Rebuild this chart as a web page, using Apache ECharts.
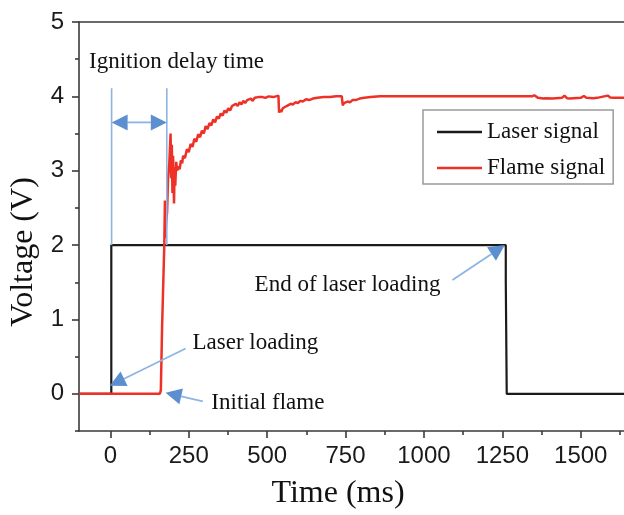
<!DOCTYPE html>
<html><head><meta charset="utf-8">
<script src="https://cdn.jsdelivr.net/npm/echarts@6/dist/echarts.min.js"></script>
<style>html,body{margin:0;padding:0;background:#fff}#c{width:624px;height:515px}</style>
</head><body><div id="c"></div>
<script>
// ---------- data ----------
const seriesNames = ['Laser signal', 'Flame signal'];
const xMajorTicks = [0, 250, 500, 750, 1000, 1250, 1500];
const xMinorTicks = [125, 375, 625, 875, 1125, 1375, 1625];
const yMajorTicks = [0, 1, 2, 3, 4, 5];
const yMinorTicks = [-0.5, 0.5, 1.5, 2.5, 3.5, 4.5];
const xRange = [-100, 1638];
const yRange = [-0.5, 5];

const laserSignal = [
  [-100, 0], [3, 0], [3, 2], [1261, 2], [1261, 1.52], [1264, 1.5], [1264, 0], [1638, 0]
];

const flameSignal = [
  [-100, 0], [158, 0], [161, 0.05], [165, 0.9], [172, 2.0], [174, 2.6], [175, 2.1], [178, 2.3],
  [181, 2.45], [184, 2.9], [188, 3.1], [192, 3.5], [194, 2.9], [196, 3.35], [198, 2.7], [200, 3.2],
  [203, 2.56], [205, 3.05], [207, 2.8], [210, 3.12], [213, 3.0], [217, 3.06], [221, 3.02],
  [225, 3.14], [229, 3.10], [232, 3.20], [238, 3.17], [244, 3.29], [250, 3.25], [256, 3.36],
  [262, 3.32], [268, 3.43], [274, 3.39], [280, 3.49], [286, 3.45], [292, 3.54], [298, 3.50],
  [304, 3.60], [310, 3.56], [316, 3.64], [322, 3.61], [328, 3.69], [334, 3.65], [340, 3.73],
  [346, 3.70], [352, 3.77], [358, 3.74], [364, 3.81], [370, 3.78], [376, 3.84], [382, 3.81],
  [388, 3.87], [394, 3.85], [400, 3.90], [406, 3.87], [412, 3.92], [418, 3.89], [424, 3.94],
  [430, 3.91], [436, 3.95], [442, 3.93], [448, 3.97], [454, 3.94], [460, 3.98], [466, 3.96],
  [472, 3.99], [478, 3.97], [486, 3.99], [494, 3.98], [505, 4.00], [520, 3.99], [536, 4.01],
  [538, 3.78], [541, 3.82], [545, 3.79], [550, 3.84], [556, 3.83], [562, 3.87], [568, 3.86],
  [575, 3.90], [582, 3.89], [590, 3.92], [598, 3.91], [606, 3.94], [614, 3.93], [624, 3.96],
  [634, 3.95], [646, 3.97], [660, 3.98], [680, 3.99], [700, 3.99], [720, 4.00], [738, 4.00],
  [741, 3.88], [745, 3.91], [750, 3.89], [756, 3.93], [764, 3.92], [772, 3.95], [782, 3.95],
  [795, 3.97], [810, 3.98], [830, 3.99], [860, 4.00], [1000, 4.00], [1200, 4.00], [1345, 4.00],
  [1352, 4.015], [1358, 4.02], [1364, 3.98], [1380, 3.97], [1390, 3.975], [1410, 3.97],
  [1440, 3.98], [1448, 4.01], [1456, 3.975], [1466, 3.97], [1476, 3.975], [1500, 3.98],
  [1510, 4.005], [1518, 3.98], [1540, 3.975], [1552, 3.98], [1586, 4.01], [1594, 3.985],
  [1605, 3.98], [1638, 3.98]
];

// ---------- annotations (data coordinates) ----------
const annoTexts = [
  { text: 'Ignition delay time', at: [-68, 4.46] },
  { text: 'Laser loading', at: [262, 0.68] },
  { text: 'Initial flame', at: [322, -0.125] },
  { text: 'End of laser loading', at: [460, 1.46] }
];
const guideLines = [
  [[4, 4.11], [4, 2.0]],
  [[180, 4.11], [180, 2.0]]
];
const arrowList = [
  { from: [4, 3.65], to: [180, 3.65], both: true },
  { from: [240, 0.61], to: [-2, 0.108] },
  { from: [295, -0.10], to: [176, 0.013] },
  { from: [1091, 1.53], to: [1258, 2.0] }
];

// ---------- chart ----------
const chart = echarts.init(document.getElementById('c'), null, { renderer: 'canvas' });
const axisCol = '#3a3a3a';
const sans = 'Liberation Sans, Arial, sans-serif';
const serif = 'Liberation Serif, Times New Roman, serif';
const plain = v => String(v);

function xAxisBase(extra) {
  return Object.assign({
    type: 'value', min: xRange[0], max: xRange[1], position: 'bottom',
    splitLine: { show: false },
    axisLine: { show: true, onZero: false, lineStyle: { color: axisCol, width: 1.6 } },
    axisLabel: { show: false }, axisTick: { show: false }
  }, extra);
}
function yAxisBase(extra) {
  return Object.assign({
    type: 'value', min: yRange[0], max: yRange[1], position: 'left',
    splitLine: { show: false },
    axisLine: { show: true, onZero: false, lineStyle: { color: axisCol, width: 1.6 } },
    axisLabel: { show: false }, axisTick: { show: false }
  }, extra);
}

const option = {
  animation: false,
  backgroundColor: '#fff',
  grid: { left: 79, right: 0, top: 22, bottom: 84, containLabel: false },
  xAxis: [
    xAxisBase({
      axisTick: { show: true, inside: false, length: 7, customValues: xMajorTicks, lineStyle: { color: axisCol, width: 1.6 } },
      axisLabel: { show: true, customValues: xMajorTicks, formatter: plain, margin: 13, color: '#1a1a1a', fontSize: 24, fontFamily: sans }
    }),
    xAxisBase({
      axisLine: { show: false, onZero: false },
      axisTick: { show: true, inside: false, length: 4, customValues: xMinorTicks, lineStyle: { color: axisCol, width: 1.6 } }
    }),
    xAxisBase({ position: 'top' })
  ],
  yAxis: [
    yAxisBase({
      axisTick: { show: true, inside: false, length: 7, customValues: yMajorTicks, lineStyle: { color: axisCol, width: 1.6 } },
      axisLabel: { show: true, customValues: yMajorTicks, formatter: plain, margin: 15, color: '#1a1a1a', fontSize: 24, fontFamily: sans }
    }),
    yAxisBase({
      axisLine: { show: false, onZero: false },
      axisTick: { show: true, inside: false, length: 4, customValues: yMinorTicks, lineStyle: { color: axisCol, width: 1.6 } }
    })
  ],
  legend: {
    orient: 'vertical', left: 423, top: 110,
    padding: [10, 8, 4, 14], itemGap: 12, itemWidth: 45, itemHeight: 2.5,
    icon: 'rect',
    borderColor: '#9a9a9a', borderWidth: 1.5, backgroundColor: '#fff',
    textStyle: { fontFamily: serif, fontSize: 23, color: '#111', lineHeight: 24 },
    data: seriesNames
  },
  series: [
    {
      name: seriesNames[0], type: 'line', data: laserSignal, symbol: 'none', showSymbol: false,
      lineStyle: { color: '#1b1b1b', width: 2.2 }, itemStyle: { color: '#1b1b1b' }, z: 2
    },
    {
      name: seriesNames[1], type: 'line', data: flameSignal, symbol: 'none', showSymbol: false,
      lineStyle: { color: '#ee3127', width: 2.5 }, itemStyle: { color: '#ee3127' }, z: 3
    }
  ]
};
chart.setOption(option);

// ---------- annotation graphics ----------
const toPx = p => chart.convertToPixel({ xAxisIndex: 0, yAxisIndex: 0 }, p);
const lineCol = '#8db4e2', headCol = '#5b8fd0';
const g = [];
function head(tip, dirFrom, L, W) {
  const dx = tip[0] - dirFrom[0], dy = tip[1] - dirFrom[1];
  const len = Math.hypot(dx, dy), ux = dx / len, uy = dy / len;
  const bx = tip[0] - ux * L, by = tip[1] - uy * L;
  const px = -uy * W / 2, py = ux * W / 2;
  g.push({ type: 'polygon', z: 100, shape: { points: [tip, [bx + px, by + py], [bx - px, by - py]] }, style: { fill: headCol } });
  return [bx, by];
}
guideLines.forEach(l => {
  const a = toPx(l[0]), b = toPx(l[1]);
  g.push({ type: 'line', z: 99, shape: { x1: a[0], y1: a[1], x2: b[0], y2: b[1] }, style: { stroke: lineCol, lineWidth: 1.6 } });
});
arrowList.forEach(ar => {
  let a = toPx(ar.from), b = toPx(ar.to);
  const L = 16, W = 16;
  const bEnd = head(b, a, L, W);
  let aEnd = a;
  if (ar.both) aEnd = head(a, b, L, W);
  g.push({ type: 'line', z: 99, shape: { x1: aEnd[0], y1: aEnd[1], x2: bEnd[0], y2: bEnd[1] }, style: { stroke: lineCol, lineWidth: 1.8 } });
});
annoTexts.forEach(t => {
  const p = toPx(t.at);
  g.push({ type: 'text', z: 101, x: p[0], y: p[1], style: { text: t.text, fill: '#111', font: '23px ' + serif, textAlign: 'left', textVerticalAlign: 'middle' } });
});
// axis titles
g.push({ type: 'text', z: 101, x: 338, y: 494, style: { text: 'Time (ms)', fill: '#111', font: '32px ' + serif, textAlign: 'center', textVerticalAlign: 'middle' } });
g.push({ type: 'text', z: 101, x: 24, y: 252, rotation: Math.PI / 2, style: { text: 'Voltage (V)', fill: '#111', font: '32px ' + serif, textAlign: 'center', textVerticalAlign: 'middle' } });
chart.setOption({ graphic: g });
</script>
</body></html>
